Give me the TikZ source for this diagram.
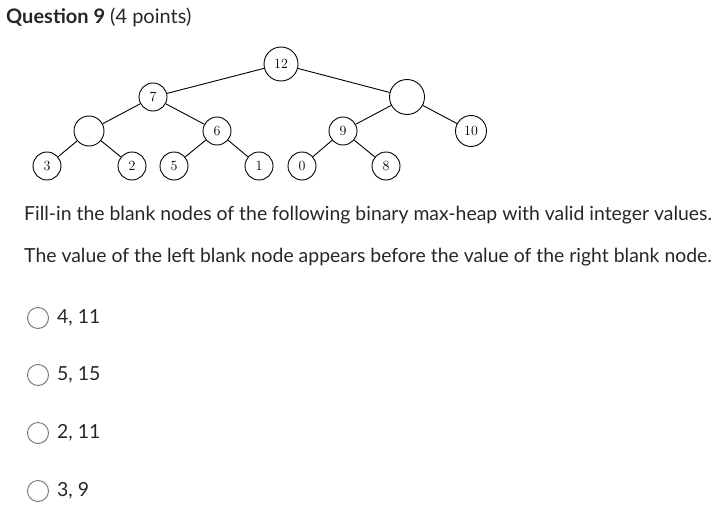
\documentclass[tikz,border=0pt]{standalone}
\usepackage{fontspec}
\newfontfamily\lato{Lato}
\begin{document}
\begin{tikzpicture}[x=1pt,y=-1pt,
  hn/.style={draw,circle,line width=0.9pt,inner sep=0pt,minimum size=28pt,font=\fontsize{14}{14}\selectfont},
  txt/.style={anchor=west,inner sep=0pt,font=\lato\fontsize{19.4}{19.4}\selectfont,text=black!85},
  radio/.style={draw=black!55,circle,line width=0.9pt,minimum size=21pt,inner sep=0pt},
  ed/.style={line width=0.9pt}]
\useasboundingbox (0,0) rectangle (722,516);
\node[anchor=west,inner sep=0pt,font=\lato\fontsize{20}{20}\selectfont,text=black!85] (title) at (6,17) {\textbf{Question 9} (4 points)};
\node[hn,minimum size=34pt] (n12) at (281,64) {12};
\node[hn] (n7) at (153,97) {7};
\node[hn,minimum size=35pt] (br) at (407,97) {};
\node[hn,minimum size=30pt] (bl) at (89,131) {};
\node[hn] (n6) at (217,131) {6};
\node[hn] (n9) at (343,131) {9};
\node[hn,minimum size=31pt] (n10) at (471,131) {10};
\node[hn] (n3) at (47,166) {3};
\node[hn] (n2) at (132,166) {2};
\node[hn] (n5) at (174,166) {5};
\node[hn] (n1) at (259,166) {1};
\node[hn] (n0) at (302,166) {0};
\node[hn] (n8) at (386,166) {8};
\draw[ed] (n12)--(n7) (n12)--(br) (n7)--(bl) (n7)--(n6) (bl)--(n3) (bl)--(n2)
 (n6)--(n5) (n6)--(n1) (br)--(n9) (br)--(n10) (n9)--(n0) (n9)--(n8);
\node[txt] (q1) at (24,215) {Fill-in the blank nodes of the following binary max-heap with valid integer values.};
\node[txt] (q2) at (24,257) {The value of the left blank node appears before the value of the right blank node.};
\node[radio] (r1) at (38,318) {}; \node[txt] (a1) at (57,318) {4, 11};
\node[radio] (r2) at (38,375) {}; \node[txt] (a2) at (57,375) {5, 15};
\node[radio] (r3) at (38,433) {}; \node[txt] (a3) at (57,433) {2, 11};
\node[radio] (r4) at (38,491) {}; \node[txt] (a4) at (57,491) {3, 9};
\end{tikzpicture}
\end{document}
